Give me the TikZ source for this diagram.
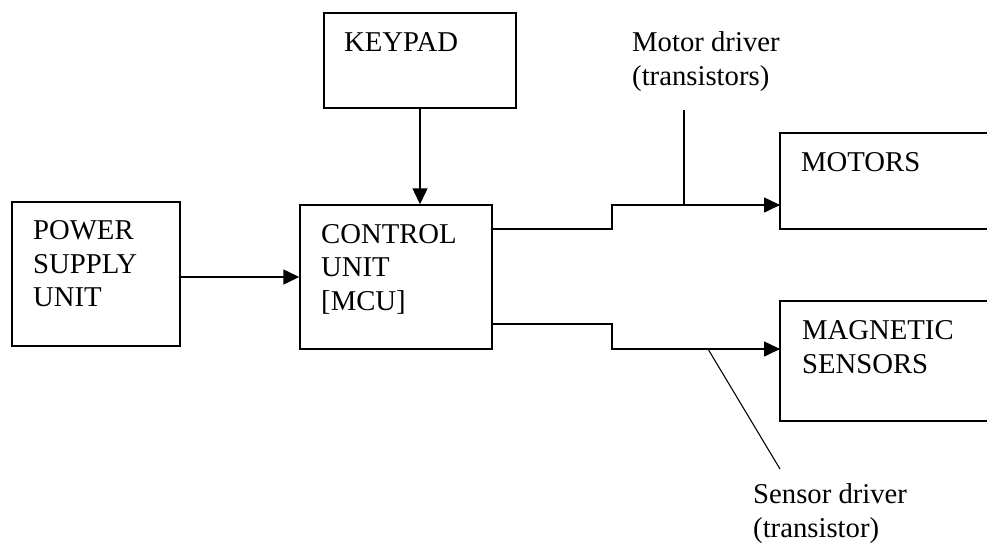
\documentclass[tikz,border=0pt]{standalone}
\usepackage{fontspec}
\setmainfont{Liberation Serif}
\usetikzlibrary{arrows.meta}
\begin{document}
\begin{tikzpicture}[x=1pt,y=-1pt,
  box/.style={draw,line width=1.5pt,rectangle,inner sep=0pt},
  lbl/.style={inner sep=0pt,anchor=base west,align=left,font=\fontsize{28.7}{33.6}\selectfont},
  wire/.style={line width=1.5pt},
  arr/.style={line width=1.5pt,-{Triangle[length=16pt,width=15pt]}},
  lead/.style={line width=1.1pt}]
\useasboundingbox[fill=white] (0,0) rectangle (987,544);
% boxes
\node[box,minimum width=168pt,minimum height=144pt] (psu) at (96,274) {};
\node[box,minimum width=192pt,minimum height=144pt] (mcu) at (396,277) {};
\node[box,minimum width=192pt,minimum height=95pt] (kp) at (420,60.5) {};
\node[box,minimum width=230pt,minimum height=96pt] (mot) at (895,181) {};
\node[box,minimum width=230pt,minimum height=120pt] (mag) at (895,361) {};
% labels (anchor = baseline of last line)
\node[lbl] (psut) at (33,306.7) {POWER\\SUPPLY\\UNIT};
\node[lbl] (mcut) at (321,310.5) {CONTROL\\UNIT\\{}[MCU]};
\node[lbl] (kpt) at (344,51) {KEYPAD};
\node[lbl] (mott) at (801,171) {MOTORS};
\node[lbl] (magt) at (802,373) {MAGNETIC\\SENSORS};
\node[lbl] (mdt) at (632,85) {Motor driver\\(transistors)};
\node[lbl] (sdt) at (753,537) {Sensor driver\\(transistor)};
% coordinates
\coordinate (m1) at (492,229);
\coordinate (m2) at (612,229);
\coordinate (m3) at (612,205);
\coordinate (m4) at (780,205);
\coordinate (s1) at (492,324);
\coordinate (s2) at (612,324);
\coordinate (s3) at (612,349);
\coordinate (s4) at (780,349);
\coordinate (md1) at (684,110);
\coordinate (md2) at (684,205);
\coordinate (sd1) at (708,349);
\coordinate (sd2) at (780,469);
% connectors
\draw[arr] (psu.east |- mcu.west) -- (mcu.west);
\draw[arr] (kp.south) -- (kp.south |- mcu.north);
\draw[wire] (m1) -- (m2) -- (m3) -- (m4);
\draw[arr] (m3) -- (m4);
\draw[wire] (s1) -- (s2) -- (s3) -- (s4);
\draw[arr] (s3) -- (s4);
\draw[lead] (md1) -- (md2);
\draw[lead] (sd1) -- (sd2);
\end{tikzpicture}
\end{document}
